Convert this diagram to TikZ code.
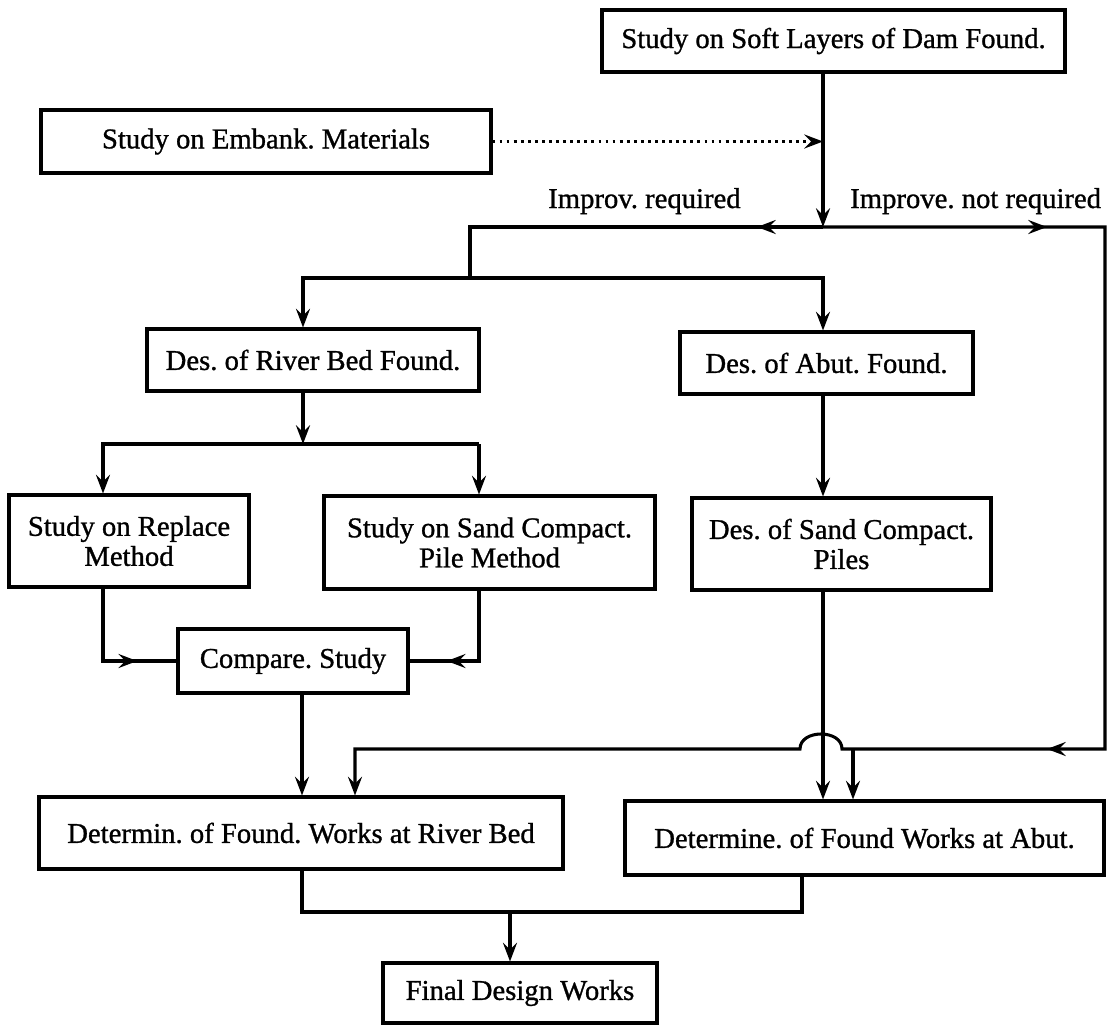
\documentclass[tikz,border=0pt]{standalone}
\usepackage{fontspec}
\setmainfont{Liberation Serif}[FakeBold=1.0]
\usetikzlibrary{arrows.meta,decorations.markings}
\frenchspacing
\begin{document}
\begin{tikzpicture}[x=0.75pt,y=-0.75pt,
  font=\fontsize{21.5}{22.5}\selectfont,
  >={Stealth[length=14pt,width=10.5pt,inset=5pt]},
  box/.style 2 args={draw, line width=2.3pt, minimum width=#1*0.75pt,
    minimum height=#2*0.75pt, inner sep=0pt, align=center},
  conn/.style={line width=2.3pt, line join=miter},
  arr/.style={conn,->},
  dotarr/.style={line width=2.1pt, dash pattern=on 2.1pt off 3.2pt, ->},
  midarr/.style={postaction={decorate}, decoration={markings,
    mark=at position #1 with {\arrow{>}}}},
  lbl/.style={anchor=base west, inner sep=0pt}]

\useasboundingbox (0,0) rectangle (1116,1025);

% process boxes
\node[box={463}{62}] (soft) at (833.5,41) {Study on Soft Layers of Dam Found.};
\node[box={450}{63}] (emb) at (266,141.5) {Study on Embank. Materials};
\node[box={332}{62}] (rbed) at (313,360) {Des. of River Bed Found.};
\node[box={293}{62}] (abut) at (826.5,363) {Des. of Abut. Found.};
\node[box={240}{92}] (repl) at (129,541) {Study on Replace\\Method};
\node[box={331}{93}] (sand) at (489.5,542.5) {Study on Sand Compact.\\Pile Method};
\node[box={299}{92}] (piles) at (841.5,544) {Des. of Sand Compact.\\Piles};
\node[box={230}{64}] (comp) at (293,661) {Compare. Study};
\node[box={524}{72}] (detrb) at (301,833) {Determin. of Found. Works at River Bed};
\node[box={479}{74}] (detab) at (864.5,838) {Determine. of Found Works at Abut.};
\node[box={274}{60}] (final) at (520,993) {Final Design Works};

% branch labels
\node[lbl] (lreq) at (548,208) {Improv. required};
\node[lbl] (lnot) at (850,208) {Improve. not required};

% routing points
\coordinate (split) at (823,227);
\coordinate (lt) at (470,227);
\coordinate (rt) at (1105,227);
\coordinate (lb) at (470,278);
\coordinate (bl) at (303,278);
\coordinate (br) at (823,278);
\coordinate (rbs) at (303,444);
\coordinate (b1) at (103,444);
\coordinate (b2) at (479,444);
\coordinate (c1) at (103,661);
\coordinate (c2) at (479,661);
\coordinate (rb) at (1105,749);
\coordinate (ar1) at (842,749);
\coordinate (ar2) at (800,749);
\coordinate (jl) at (355,749);
\coordinate (jr) at (853,749);
\coordinate (f1) at (302,912);
\coordinate (f2) at (802,912);
\coordinate (fm) at (510,912);

% top of the chart
\draw[arr] (soft.south -| split) -- (split);
\draw[dotarr] (emb.east) -- (emb.east -| split);
\draw[arr, midarr=49.5pt] (split) -- (lt) -- (lb) -- (bl) -- (bl |- rbed.north);
\draw[arr] (lb) -- (br) -- (br |- abut.north);

% "not required" loop with the crossing bump
\draw[arr, postaction={decorate}, decoration={markings,
    mark=at position 168pt with {\arrow{>}},
    mark=at position 646.5pt with {\arrow{>}}}]
  (split) -- (rt) -- (rb) -- (ar1) .. controls (842,729) and (800,729) .. (ar2)
  -- (jl) -- (jl |- detrb.north);
\draw[arr] (jr) -- (jr |- detab.north);

% river bed branch
\draw[arr] (rbs |- rbed.south) -- (rbs);
\draw[arr] (b2) -- (b1) -- (b1 |- repl.north);
\draw[arr] (b2) -- (b2 |- sand.north);
\draw[conn, midarr=80pt] (c1 |- repl.south) -- (c1) -- (comp.west);
\draw[conn, midarr=77pt] (c2 |- sand.south) -- (c2) -- (comp.east);
\draw[arr] (f1 |- comp.south) -- (f1 |- detrb.north);

% abutment branch
\draw[arr] (br |- abut.south) -- (br |- piles.north);
\draw[arr] (br |- piles.south) -- (br |- detab.north);

% merge into final design
\draw[conn] (f1 |- detrb.south) -- (f1) -- (f2) -- (f2 |- detab.south);
\draw[arr] (fm) -- (fm |- final.north);
\end{tikzpicture}
\end{document}
